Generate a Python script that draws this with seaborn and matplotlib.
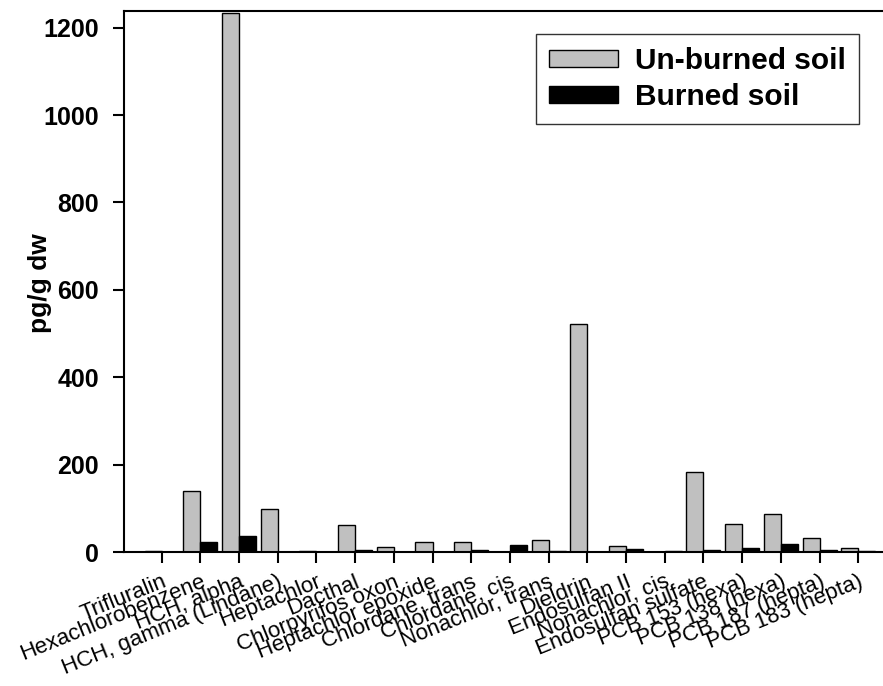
import numpy as np
import pandas as pd
import matplotlib
matplotlib.use("Agg")
import matplotlib.pyplot as plt
import seaborn as sns

sns.set_theme(style="white")
plt.rcParams['font.family'] = ['Liberation Sans', 'DejaVu Sans']
plt.rcParams['text.color'] = 'black'
plt.rcParams['axes.labelcolor'] = 'black'
plt.rcParams['xtick.color'] = 'black'
plt.rcParams['ytick.color'] = 'black'

# compounds, left to right
compounds = ["Trifluralin", "Hexachlorobenzene", "HCH, alpha", "HCH, gamma (Lindane)",
             "Heptachlor", "Dacthal", "Chlorpyrifos oxon", "Heptachlor epoxide",
             "Chlordane, trans", "Chlordane, cis", "Nonachlor, trans", "Dieldrin",
             "Endosulfan II", "Nonachlor, cis", "Endosulfan sulfate", "PCB 153 (hexa)",
             "PCB 138 (hexa)", "PCB 187 (hepta)", "PCB 183 (hepta)"]

# pg/g dw
unburned = [2, 140, 1233, 99, 2, 62, 11, 23, 24, 0, 27, 522, 13, 0, 184, 63, 88, 32, 10]
burned = [1, 22, 37, 0, 0, 5, 0, 0, 5, 15, 3, 0, 6, 2, 5, 10, 18, 5, 2]

series = ["Un-burned soil", "Burned soil"]
colours = ["#c0c0c0", "#000000"]

df = pd.DataFrame({
    "compound": compounds * 2,
    "soil": [series[0]] * len(compounds) + [series[1]] * len(compounds),
    "value": unburned + burned,
})

fig = plt.figure(figsize=(8.83, 6.86), dpi=100)
ax = fig.add_axes([124 / 883, 1 - 552 / 686, (897 - 124) / 883, (552 - 11) / 686])

sns.barplot(data=df, x="compound", y="value", hue="soil", order=compounds,
            hue_order=series, palette=colours, width=0.88, edgecolor="black",
            linewidth=1.0, saturation=1, ax=ax)

ax.set_xlim(-0.97, 19)
ax.set_ylim(0, 1238)
ax.set_yticks([0, 200, 400, 600, 800, 1000, 1200])

for s in ax.spines.values():
    s.set_color("black")
    s.set_linewidth(1.5)

ax.tick_params(axis="both", direction="out", length=8, width=1.5, color="black",
               bottom=True, left=True)
ax.tick_params(axis="y", labelsize=18, pad=10)
for lab in ax.get_yticklabels():
    lab.set_fontweight("bold")

ax.set_xticks(range(len(compounds)))
ax.set_xticklabels(compounds, rotation=22, ha="right", rotation_mode="anchor",
                   fontsize=16)
ax.tick_params(axis="x", pad=6)

ax.set_xlabel("")
ax.set_ylabel("pg/g dw", fontsize=19, fontweight="bold")
ax.yaxis.label.set_va("center")
ax.yaxis.set_label_coords((40 - 124) / 773, (552 - 283) / 541)

leg = ax.legend(loc="upper left", bbox_to_anchor=(536 / 883, 1 - 34 / 686),
                bbox_transform=fig.transFigure, fontsize=21.5, frameon=True,
                fancybox=False, edgecolor="black", handlelength=2.3,
                handleheight=0.5, borderpad=0.45, labelspacing=0.25,
                handletextpad=0.55, borderaxespad=0)
leg.get_frame().set_linewidth(1.0)
for t in leg.get_texts():
    t.set_fontweight("bold")

fig.savefig("out.png", dpi=100)
